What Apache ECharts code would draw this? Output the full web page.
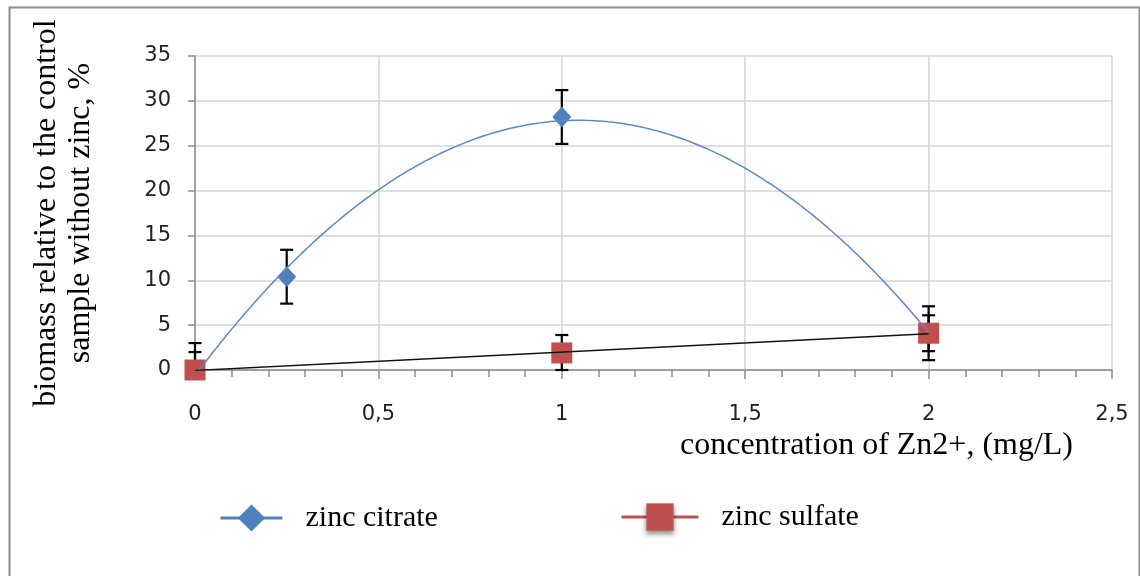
<!DOCTYPE html>
<html>
<head>
<meta charset="utf-8">
<script src="https://cdn.jsdelivr.net/npm/echarts@6/dist/echarts.min.js"></script>
<style>
html,body{margin:0;padding:0;background:#fff;}
#chart{width:1140px;height:576px;}
</style>
</head>
<body>
<div id="chart"></div>
<script>
// ---- data ----
const xCitrate = [0, 0.25, 1, 2];
const yCitrate = [0, 10.4, 28.2, 4.1];
const errCitrate = [3, 3, 3, 3];

const xSulfate = [0, 1, 2];
const ySulfate = [0, 1.9, 4.1];
const errSulfate = [2, 2, 2];

const xTicks = [0, 0.5, 1, 1.5, 2, 2.5];
const yTicks = [0, 5, 10, 15, 20, 25, 30, 35];

const seriesNames = ['zinc citrate', 'zinc sulfate'];

// ---- least-squares trendlines (as in the spreadsheet: poly order 2 and linear) ----
function polyFit(xs, ys, order) {
  const n = order + 1;
  const A = [];
  for (let r = 0; r < n; r++) {
    A.push([]);
    for (let c = 0; c < n; c++) {
      let s = 0; xs.forEach(x => s += Math.pow(x, r + c));
      A[r].push(s);
    }
    let t = 0; xs.forEach((x, i) => t += Math.pow(x, r) * ys[i]);
    A[r].push(t);
  }
  for (let i = 0; i < n; i++) {
    let p = i;
    for (let k = i + 1; k < n; k++) if (Math.abs(A[k][i]) > Math.abs(A[p][i])) p = k;
    [A[i], A[p]] = [A[p], A[i]];
    for (let k = i + 1; k < n; k++) {
      const f = A[k][i] / A[i][i];
      for (let c = i; c <= n; c++) A[k][c] -= f * A[i][c];
    }
  }
  const coef = new Array(n).fill(0);
  for (let i = n - 1; i >= 0; i--) {
    let s = A[i][n];
    for (let c = i + 1; c < n; c++) s -= A[i][c] * coef[c];
    coef[i] = s / A[i][i];
  }
  return x => coef.reduce((acc, a, i) => acc + a * Math.pow(x, i), 0);
}
function trendData(xs, ys, order, steps) {
  const f = polyFit(xs, ys, order);
  const x0 = Math.min(...xs), x1 = Math.max(...xs);
  const out = [];
  for (let i = 0; i <= steps; i++) {
    const x = x0 + (x1 - x0) * i / steps;
    out.push([x, f(x)]);
  }
  return out;
}

const citrateTrend = trendData(xCitrate, yCitrate, 2, 200);
const sulfateTrend = trendData(xSulfate, ySulfate, 1, 1);

const citratePts = xCitrate.map((x, i) => [x, yCitrate[i]]);
const sulfatePts = xSulfate.map((x, i) => [x, ySulfate[i]]);
const citrateErr = xCitrate.map((x, i) => [x, yCitrate[i] - errCitrate[i], yCitrate[i] + errCitrate[i]]);
const sulfateErr = xSulfate.map((x, i) => [x, ySulfate[i] - errSulfate[i], ySulfate[i] + errSulfate[i]]);

const Y_MIN = yTicks[0], Y_MAX = yTicks[yTicks.length - 1];

function renderErr(params, api) {
  const x = api.value(0);
  let lo = api.value(1), hi = api.value(2);
  const tol = 0.2;
  const drawLo = lo >= Y_MIN - tol, drawHi = hi <= Y_MAX + tol;
  lo = Math.max(lo, Y_MIN); hi = Math.min(hi, Y_MAX);
  const pLo = api.coord([x, lo]), pHi = api.coord([x, hi]);
  const w = 6.5;
  const st = { stroke: '#000', lineWidth: 2.2 };
  const ch = [{ type: 'line', shape: { x1: pLo[0], y1: pLo[1], x2: pHi[0], y2: pHi[1] }, style: st }];
  if (drawLo) ch.push({ type: 'line', shape: { x1: pLo[0] - w, y1: pLo[1], x2: pLo[0] + w, y2: pLo[1] }, style: st });
  if (drawHi) ch.push({ type: 'line', shape: { x1: pHi[0] - w, y1: pHi[1], x2: pHi[0] + w, y2: pHi[1] }, style: st });
  return { type: 'group', children: ch };
}

const BLUE = '#4f81bd';
const RED = '#c0504d';
const AXIS = '#8c8c8c';
const GRID = '#d4d4d4';
const SERIF = '"Liberation Serif", "Times New Roman", serif';
const SANS = '"DejaVu Sans", "Liberation Sans", sans-serif';

const legendText = { fontFamily: SERIF, fontSize: 30, color: '#000', padding: [0, 0, 0, 18] };

const chart = echarts.init(document.getElementById('chart'), null, { renderer: 'canvas' });
chart.setOption({
  animation: false,
  backgroundColor: '#fff',
  graphic: [{
    type: 'rect', left: 7, top: 5, shape: { width: 1130, height: 620 },
    style: { fill: 'none', stroke: '#8c8c8c', lineWidth: 2 }, silent: true, z: -1
  }],
  grid: { left: 195, right: 28, top: 56, bottom: 206, containLabel: false, outerBoundsMode: 'none' },
  legend: [
    {
      left: 219, top: 503, padding: 0,
      itemWidth: 62, itemHeight: 34,
      textStyle: legendText,
      data: [{ name: seriesNames[0], itemStyle: { color: BLUE }, lineStyle: { color: BLUE, width: 3, opacity: 1 } }]
    },
    {
      left: 620, top: 502, padding: 0,
      itemWidth: 77, itemHeight: 34,
      textStyle: legendText,
      data: [{ name: seriesNames[1], itemStyle: { color: RED, shadowBlur: 5, shadowColor: 'rgba(0,0,0,0.45)', shadowOffsetY: 3 }, lineStyle: { color: RED, width: 3, opacity: 1 } }]
    }
  ],
  xAxis: {
    type: 'value', min: xTicks[0], max: xTicks[xTicks.length - 1], interval: xTicks[1] - xTicks[0],
    name: 'concentration of Zn2+, (mg/L)',
    nameLocation: 'middle', nameGap: 52,
    nameTextStyle: { fontFamily: SERIF, fontSize: 32, color: '#000', verticalAlign: 'top', padding: [0, 0, 0, 446] },
    axisLine: { show: true, onZero: false, lineStyle: { color: AXIS, width: 1.5 } },
    axisTick: { show: true, length: 9, lineStyle: { color: AXIS, width: 1.5 } },
    minorTick: { show: true, splitNumber: 5, length: 7, lineStyle: { color: AXIS, width: 1.5 } },
    splitLine: { show: true, lineStyle: { color: GRID, width: 1.5 } },
    axisLabel: { margin: 34, fontFamily: SANS, fontSize: 21, color: '#222', formatter: v => String(v).replace('.', ',') }
  },
  yAxis: {
    type: 'value', min: Y_MIN, max: Y_MAX, interval: yTicks[1] - yTicks[0],
    name: 'biomass relative to the control\nsample without zinc, %',
    nameLocation: 'middle', nameRotate: 90, nameGap: 97,
    nameTextStyle: { fontFamily: SERIF, fontSize: 32, color: '#000', lineHeight: 34 },
    axisLine: { show: true, lineStyle: { color: AXIS, width: 1.5 } },
    axisTick: { show: true, length: 7, lineStyle: { color: AXIS, width: 1.5 } },
    splitLine: { show: true, lineStyle: { color: GRID, width: 1.5 } },
    axisLabel: { margin: 24, fontFamily: SANS, fontSize: 21, color: '#222' }
  },
  series: [
    { type: 'custom', name: 'err citrate', renderItem: renderErr, data: citrateErr, encode: { x: 0, y: [1, 2] }, z: 2, clip: false, silent: true },
    { type: 'custom', name: 'err sulfate', renderItem: renderErr, data: sulfateErr, encode: { x: 0, y: [1, 2] }, z: 2, clip: false, silent: true },
    { type: 'line', name: seriesNames[0], data: citratePts, symbol: 'diamond', symbolSize: [19, 21], showAllSymbol: true,
      itemStyle: { color: BLUE }, lineStyle: { opacity: 0 }, z: 3 },
    { type: 'line', name: seriesNames[1], data: sulfatePts, symbol: 'rect', symbolSize: 21, showAllSymbol: true,
      itemStyle: { color: RED }, lineStyle: { opacity: 0 }, z: 4 },
    { type: 'line', name: 'citrate trend', data: citrateTrend, showSymbol: false, symbol: 'none', smooth: false,
      lineStyle: { color: '#5a8ac6', width: 1.5 }, z: 5, silent: true },
    { type: 'line', name: 'sulfate trend', data: sulfateTrend, showSymbol: false, symbol: 'none',
      lineStyle: { color: '#111', width: 1.5 }, z: 5, silent: true }
  ]
});
</script>
</body>
</html>
